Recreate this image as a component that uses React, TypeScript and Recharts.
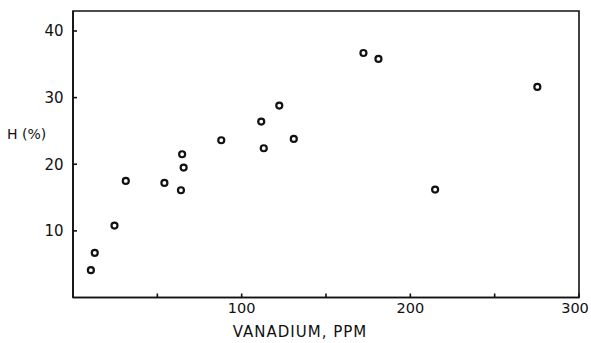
import React from 'react';
import {
  ScatterChart,
  Scatter,
  XAxis,
  YAxis,
  ReferenceArea,
} from 'recharts';

// vanadium content (ppm) against H (%)
const vanadium = [
  10.6, 12.9, 24.6, 31.3, 54.2, 64.7, 65.6, 64.0, 87.9,
  111.6, 122.3, 113.1, 130.9, 172.2, 181.1, 214.7, 275.3,
];
const hPercent = [
  4.1, 6.7, 10.8, 17.5, 17.2, 21.5, 19.5, 16.1, 23.6,
  26.4, 28.8, 22.4, 23.8, 36.7, 35.8, 16.2, 31.6,
];
const xTicks = [50, 100, 150, 200, 250, 300];
const xLabelled = [100, 200, 300];
const yTicks = [10, 20, 30, 40];

const points = vanadium.map((v, i) => ({ v, h: hPercent[i] }));

const INK = '#111';
const FONT = 'DejaVu Sans, sans-serif';

function XTick(props: any) {
  const { x, y, payload } = props;
  if (!xLabelled.includes(payload.value)) return null;
  // last label sits at the right edge, nudge it inside
  const dx = payload.value === 300 ? -4 : 0;
  return (
    <text x={x} y={y} dx={dx} dy="0.71em" textAnchor="middle" fontSize={14.5} fontFamily={FONT} fill={INK}>
      {payload.value}
    </text>
  );
}

function OpenCircle(props: any) {
  const { cx, cy } = props;
  return <circle cx={cx} cy={cy} r={3} fill="#fff" stroke={INK} strokeWidth={2.2} />;
}

export default function App() {
  return (
    <div style={{ position: 'absolute', left: 0, top: 0, background: '#fff' }}>
      <ScatterChart width={591} height={343} margin={{ top: 11, right: 12, bottom: 5.5, left: 0 }}>
        <XAxis
          type="number"
          dataKey="v"
          domain={[0, 300]}
          ticks={xTicks}
          interval={0}
          height={40}
          tickSize={-4}
          tickMargin={9.5}
          tick={<XTick />}
          axisLine={{ stroke: INK, strokeWidth: 1.6 }}
          tickLine={{ stroke: INK, strokeWidth: 1.6 }}
          label={{
            value: 'VANADIUM, PPM',
            position: 'insideBottom',
            offset: 1,
            dx: -26,
            fontSize: 15,
            fontFamily: FONT,
            letterSpacing: 1,
            fill: INK,
          }}
        />
        <YAxis
          type="number"
          dataKey="h"
          domain={[0, 43]}
          ticks={yTicks}
          interval={0}
          width={73}
          tickSize={-4}
          tickMargin={13.5}
          tick={{ fontSize: 15, fontFamily: FONT, fill: INK }}
          axisLine={{ stroke: INK, strokeWidth: 1.6 }}
          tickLine={{ stroke: INK, strokeWidth: 1.6 }}
          label={{
            value: 'H (%)',
            position: 'insideLeft',
            offset: 7,
            dy: -20,
            fontSize: 14,
            fontFamily: FONT,
            fill: INK,
          }}
        />
        <ReferenceArea x1={0} x2={300} y1={0} y2={43} fill="none" stroke={INK} strokeWidth={1.6} />
        <Scatter data={points} shape={<OpenCircle />} isAnimationActive={false} />
      </ScatterChart>
    </div>
  );
}
